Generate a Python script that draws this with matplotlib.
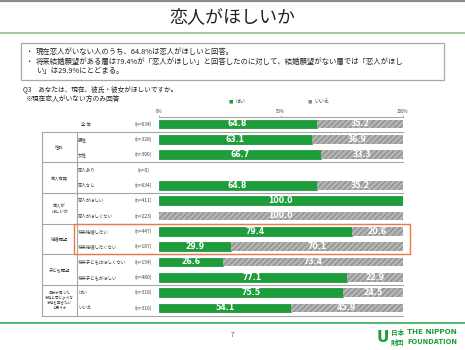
import matplotlib
matplotlib.use("Agg")
import matplotlib.pyplot as plt
from matplotlib.patches import Rectangle
from matplotlib.transforms import blended_transform_factory

plt.rcParams['font.family'] = ['Noto Sans CJK JP', 'DejaVu Sans']
plt.rcParams['hatch.linewidth'] = 0.7

# データ
row_labels = ['全 体', '男性', '女性', '恋人あり', '恋人なし', '恋人がほしい', '恋人がほしくない',
              '将来結婚したい', '将来結婚したくない', '将来子どもはほしくない', '将来子どもがほしい',
              'はい', 'いいえ']
n_labels = ['(n=634)', '(n=328)', '(n=306)', '(n=0)', '(n=634)', '(n=411)', '(n=223)',
            '(n=447)', '(n=187)', '(n=154)', '(n=480)', '(n=318)', '(n=316)']
hai = [64.8, 63.1, 66.7, 0.0, 64.8, 100.0, 0.0, 79.4, 29.9, 26.6, 77.1, 75.5, 54.1]
iie = [35.2, 36.9, 33.3, 0.0, 35.2, 0.0, 100.0, 20.6, 70.1, 73.4, 22.9, 24.5, 45.9]
groups = [('性別', 1, 2), ('恋人有無', 3, 4), ('恋人が\nほしいか', 5, 6), ('結婚願望', 7, 8),
          ('子ども願望', 9, 10), ('自分が育った\n家庭と同じような\n家庭を築きたい\nと思うか', 11, 12)]
legend_labels = ['はい', 'いいえ']
tick_vals = [0, 50, 100]
tick_labels = ['0%', '50%', '100%']

GREEN = '#1e9e3a'
GREEN_EDGE = '#128a2e'
GRAY = '#b4b4b4'
HATCH = '#858585'
LINE = '#a6a6a6'
TEXT = '#404040'

fig = plt.figure(figsize=(4.65, 3.5), dpi=100)
fig.patch.set_facecolor('white')

# 背景レイヤー (ピクセル座標)
bg = fig.add_axes([0, 0, 1, 1])
bg.set_xlim(0, 465)
bg.set_ylim(350, 0)
bg.axis('off')

bg.plot([0, 465], [1, 1], color='#8c8c8c', lw=1.6, solid_capstyle='butt')
bg.text(232.5, 17, '恋人がほしいか', ha='center', va='center', fontsize=13, color='#222222')
bg.plot([0, 465], [33, 33], color='#8cc48c', lw=1.2)

# 要約ボックス
bg.add_patch(Rectangle((21, 43), 423, 37, fill=False, edgecolor='#a8a8a8', lw=0.9))
bullets = [(52, '現在恋人がいない人のうち、64.8%は恋人がほしいと回答。', True),
           (62, '将来結婚願望がある層は79.4%が「恋人がほしい」と回答したのに対して、結婚願望がない層では「恋人がほし', True),
           (71, 'い」は29.9%にとどまる。', False)]
for yy, txt, dot in bullets:
    if dot:
        bg.text(29, yy, '・', ha='center', va='center', fontsize=5.3, color='#222222')
    bg.text(36, yy, txt, ha='left', va='center', fontsize=5.3, color='#222222')

bg.text(23, 89, 'Q3　あなたは、現在、彼氏・彼女がほしいですか。', ha='left', va='center',
        fontsize=4.8, color='#222222')
bg.text(25, 99, '※現在恋人がいない方のみ回答', ha='left', va='center', fontsize=4.9, color='#222222')

# 凡例
bg.text(231, 101.5, '■', ha='center', va='center', fontsize=3.2, color=GREEN)
bg.text(235, 101, legend_labels[0], ha='left', va='center', fontsize=3.6, color=TEXT)
bg.text(310, 101.5, '■', ha='center', va='center', fontsize=3.2, color='#8c8c8c')
bg.text(314, 101, legend_labels[1], ha='left', va='center', fontsize=3.6, color=TEXT)

# 棒グラフ
row_h = 15.33
top_px, bot_px, first_px = 117, 316, 124
ax = fig.add_axes([158.5 / 465, (350 - bot_px) / 350, 244 / 465, (bot_px - top_px) / 350])
ax.set_xlim(0, 100)
ax.set_ylim((bot_px - first_px) / row_h, (top_px - first_px) / row_h)
ax.patch.set_alpha(0)

ys = list(range(len(row_labels)))
for y, h, n in zip(ys, hai, iie):
    if h > 0:
        ax.barh(y, h, height=0.55, color=GREEN, edgecolor=GREEN_EDGE, linewidth=0.5)
        ax.text(h / 2, y, f'{h:.1f}', ha='center', va='center', color='white',
                fontsize=5.6, fontweight='bold', family='DejaVu Sans')
    if n > 0:
        ax.barh(y, n, left=h, height=0.55, color=GRAY, edgecolor=HATCH, linewidth=0,
                hatch='//////')
        ax.text(h + n / 2, y, f'{n:.1f}', ha='center', va='center', color='white',
                fontsize=5.6, fontweight='bold', family='DejaVu Sans')

for s in ['left', 'right', 'bottom']:
    ax.spines[s].set_visible(False)
ax.spines['top'].set_color('#909090')
ax.spines['top'].set_linewidth(0.6)
ax.xaxis.tick_top()
ax.set_xticks(tick_vals)
ax.set_xticklabels(tick_labels)
ax.tick_params(axis='x', length=1.5, width=0.5, color='#909090', pad=1, labelsize=3.2,
               labelcolor=TEXT)
ax.set_yticks([])

# 表の罫線とラベル
tr = blended_transform_factory(bg.transData, ax.transData)
for b in [0.5, 2.5, 4.5, 6.5, 8.5, 10.5, 12.5]:
    bg.plot([42, 403], [b, b], color=LINE, lw=0.8, transform=tr, zorder=1)
for x in [42, 77]:
    bg.plot([x, x], [0.5, 12.5], color=LINE, lw=0.8, transform=tr, zorder=1)

for y, lab, nl in zip(ys, row_labels, n_labels):
    bg.text(81 if y == 0 else 78, y, lab, ha='left', va='center', fontsize=3.2,
            color=TEXT, transform=tr)
    bg.text(143.5, y, nl, ha='center', va='center', fontsize=3.5, color=TEXT, transform=tr)

for name, r0, r1 in groups:
    fs = 2.6 if name.count('\n') > 1 else 3.1
    bg.text(59.5, (r0 + r1) / 2, name, ha='center', va='center', fontsize=fs,
            color=TEXT, transform=tr, linespacing=1.3)

# 強調枠
bg.add_patch(Rectangle((74, 6.5), 336, 2.0, fill=False, edgecolor='#ec7848', lw=1.0,
                       transform=tr, zorder=5))

# フッター
bg.plot([0, 465], [323, 323], color='#2aa444', lw=1.1)
bg.text(232.5, 335, '7', ha='center', va='center', fontsize=4.5, color='#555555')
bg.text(383, 337, 'U', ha='center', va='center', fontsize=11, fontweight='bold',
        color=GREEN, family='DejaVu Sans')
bg.text(398, 332, '日本', ha='center', va='center', fontsize=4.8, fontweight='bold', color=GREEN)
bg.text(398, 342, '財団', ha='center', va='center', fontsize=4.8, fontweight='bold', color=GREEN)
bg.text(407, 332, 'THE NIPPON', ha='left', va='center', fontsize=5.2, fontweight='bold',
        color=GREEN, family='DejaVu Sans')
bg.text(407, 342, 'FOUNDATION', ha='left', va='center', fontsize=4.8, fontweight='bold',
        color=GREEN, family='DejaVu Sans')

fig.savefig('out.png', dpi=100)
